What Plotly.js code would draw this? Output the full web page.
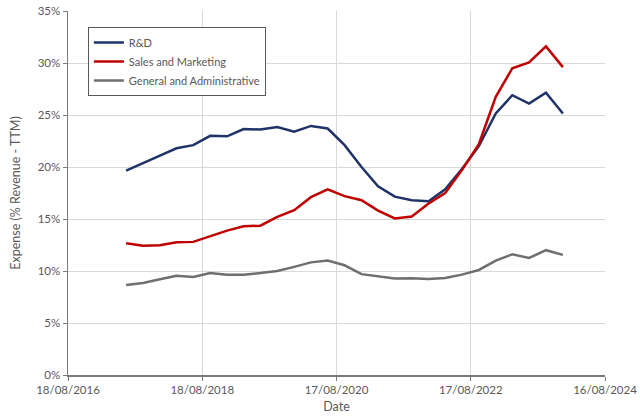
<!DOCTYPE html>
<html>
<head>
<meta charset="utf-8">
<script src="https://cdn.plot.ly/plotly-3.0.1.min.js"></script>
<style>html,body{margin:0;padding:0;background:#fff;}#chart{width:640px;height:418px;}</style>
</head>
<body>
<div id="chart"></div>
<script>
const dates = ["2017-06-30","2017-09-30","2017-12-31","2018-03-31","2018-06-30","2018-09-30","2018-12-31",
"2019-03-31","2019-06-30","2019-09-30","2019-12-31","2020-03-31","2020-06-30","2020-09-30","2020-12-31",
"2021-03-31","2021-06-30","2021-09-30","2021-12-31","2022-03-31","2022-06-30","2022-09-30","2022-12-31",
"2023-03-31","2023-06-30","2023-09-30","2023-12-31"];
const rnd = [19.65,20.4,21.1,21.8,22.1,23.0,22.95,23.65,23.6,23.85,23.4,23.95,23.7,22.1,20.0,18.15,17.15,16.8,16.7,17.85,19.8,22.0,25.15,26.9,26.1,27.15,25.15];
const salesMarketing = [12.66,12.43,12.47,12.76,12.8,13.37,13.88,14.3,14.36,15.2,15.85,17.1,17.85,17.2,16.8,15.8,15.05,15.23,16.5,17.5,19.7,22.2,26.75,29.5,30.05,31.6,29.6];
const generalAdmin = [8.65,8.85,9.2,9.55,9.42,9.8,9.65,9.65,9.8,10.0,10.4,10.83,11.0,10.55,9.7,9.5,9.27,9.3,9.23,9.33,9.65,10.1,11.0,11.6,11.25,12.0,11.55];
const xTickVals = ["2016-08-18","2018-08-18","2020-08-17","2022-08-17","2024-08-16"];
const xTickText = ["18/08/2016","18/08/2018","17/08/2020","17/08/2022","16/08/2024"];

const fam = "Lato, 'Open Sans', sans-serif";
const traces = [
  {x: dates, y: rnd, name: "R&D", mode: "lines", line: {color: "#1f3368", width: 2.5}},
  {x: dates, y: salesMarketing, name: "Sales and Marketing", mode: "lines", line: {color: "#c00000", width: 2.5}},
  {x: dates, y: generalAdmin, name: "General and Administrative", mode: "lines", line: {color: "#6f6f6f", width: 2.5}}
];
const layout = {
  width: 640, height: 418,
  margin: {l: 68, r: 35, t: 11, b: 43},
  paper_bgcolor: "#fff", plot_bgcolor: "#fff",
  font: {family: fam, color: "#595959", size: 11},
  showlegend: true,
  legend: {x: 0.037, y: 0.956, xanchor: "left", yanchor: "top", bgcolor: "#fff",
           bordercolor: "#595959", borderwidth: 1, font: {family: fam, size: 11, color: "#595959"},
           tracegroupgap: 0, itemwidth: 30},
  xaxis: {
    type: "date", range: ["2016-08-18","2024-08-16"],
    tickmode: "array", tickvals: xTickVals, ticktext: xTickText,
    showgrid: true, gridcolor: "#d9d9d9", gridwidth: 1,
    showline: true, linecolor: "#7a7a7a", linewidth: 1.5,
    ticks: "outside", ticklen: 4, tickcolor: "#7a7a7a",
    tickfont: {family: fam, size: 11.5, color: "#595959"},
    title: {text: "Date", font: {family: fam, size: 12.5, color: "#595959"}, standoff: 7},
    zeroline: false
  },
  yaxis: {
    range: [0, 35], dtick: 5, ticksuffix: "%",
    showgrid: true, gridcolor: "#d9d9d9", gridwidth: 1,
    showline: true, linecolor: "#7a7a7a", linewidth: 1.5,
    ticks: "outside", ticklen: 4, tickcolor: "#7a7a7a",
    tickfont: {family: fam, size: 11.5, color: "#595959"},
    title: {text: "Expense (% Revenue - TTM)", font: {family: fam, size: 12.5, color: "#595959"}, standoff: 14},
    zeroline: false
  }
};
Plotly.newPlot("chart", traces, layout, {displayModeBar: false, staticPlot: true});
</script>
</body>
</html>
